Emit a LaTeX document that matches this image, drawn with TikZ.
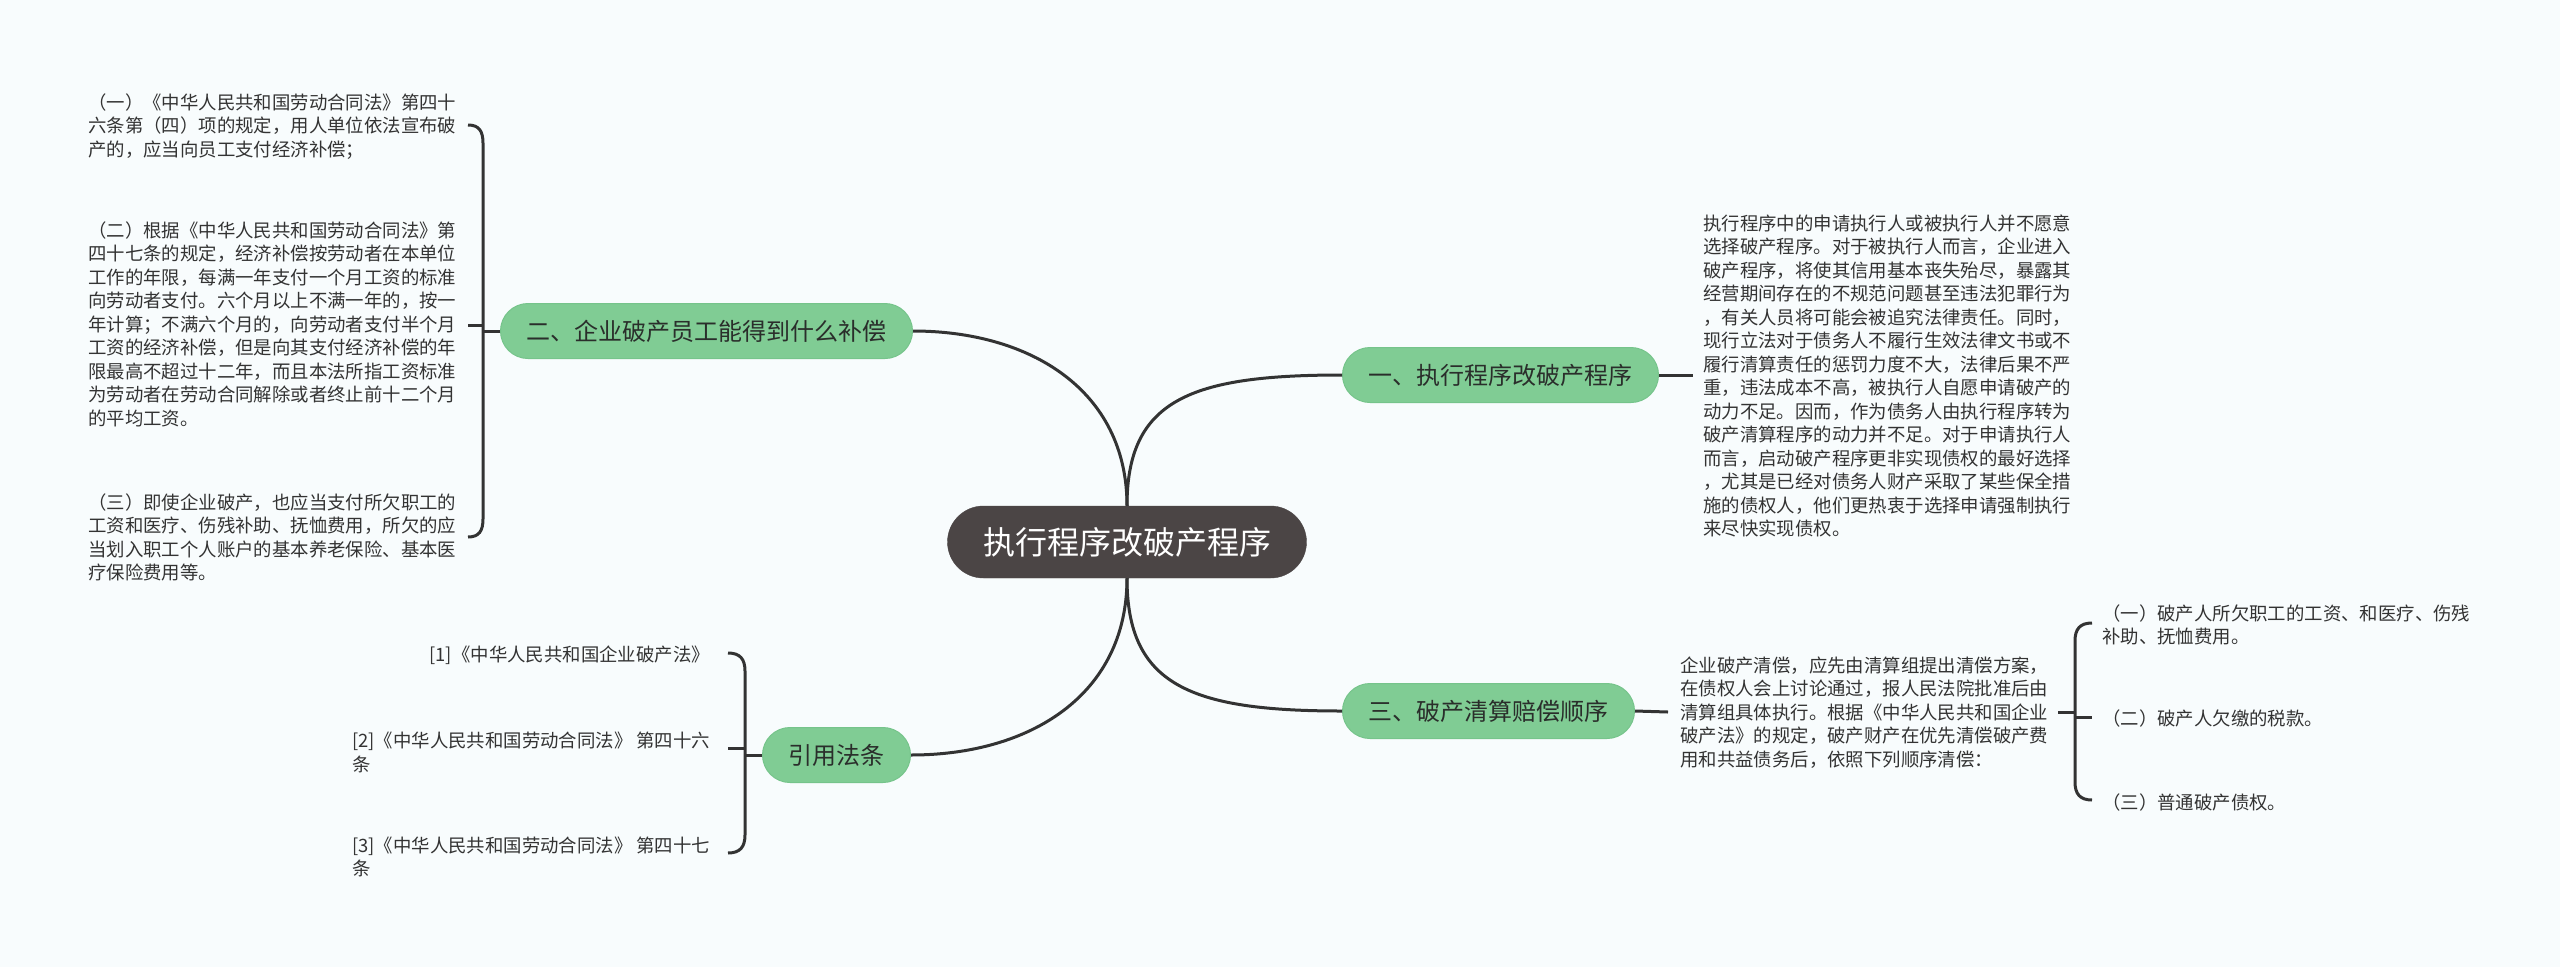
\documentclass[tikz,border=0pt]{standalone}
\usepackage{fontspec}
\setmainfont{Noto Sans CJK SC}
\definecolor{bg}{HTML}{F8FCFD}
\definecolor{grn}{HTML}{80CC94}
\definecolor{grnb}{HTML}{76C48B}
\definecolor{darkn}{HTML}{4B4545}
\definecolor{ln}{HTML}{333333}
\definecolor{txt}{HTML}{333333}
\definecolor{btxt}{HTML}{2A2E2B}
\tikzset{
  mainnode/.style={fill=darkn, draw=darkn, text=white, rounded corners=36pt, minimum height=72pt, minimum width=359pt, inner sep=0pt, font=\fontsize{32}{36}\selectfont},
  branch/.style={fill=grn, draw=grnb, line width=1pt, text=btxt, rounded corners=27.5pt, minimum height=55pt, inner xsep=26pt, inner ysep=0pt, font=\fontsize{24}{28}\selectfont},
  leaf/.style={font=\fontsize{18.4}{23.5}\selectfont, align=left, inner sep=0pt, text=txt, anchor=north west},
  conn/.style={draw=ln, line width=3pt},
}
\begin{document}
\begin{tikzpicture}[x=1pt,y=-1pt]
\fill[bg] (0,0) rectangle (2560,967);
\useasboundingbox (0,0) rectangle (2560,967);

% main and branch nodes
\node[mainnode] (c) at (1127,542) {执行程序改破产程序};
\node[branch, anchor=west] (b1) at (1342,375) {一、执行程序改破产程序};
\node[branch, anchor=east] (b2) at (913,331) {二、企业破产员工能得到什么补偿};
\node[branch, anchor=west] (b3) at (1342,711) {三、破产清算赔偿顺序};
\node[branch, anchor=east] (b4) at (911,755) {引用法条};

% main curves
\draw[conn] (c.north) .. controls (1127,400) and (1190,375) .. (b1.west);
\draw[conn] (c.north) .. controls (1127,390) and (1030,331) .. (b2.east);
\draw[conn] (c.south) .. controls (1127,685) and (1190,711) .. (b3.west);
\draw[conn] (c.south) .. controls (1127,695) and (1030,755) .. (b4.east);

% branch 1 leaf
\node[leaf] (r1) at (1703,214.5) {执行程序中的申请执行人或被执行人并不愿意\\选择破产程序。对于被执行人而言，企业进入\\破产程序，将使其信用基本丧失殆尽，暴露其\\经营期间存在的不规范问题甚至违法犯罪行为\\，有关人员将可能会被追究法律责任。同时，\\现行立法对于债务人不履行生效法律文书或不\\履行清算责任的惩罚力度不大，法律后果不严\\重，违法成本不高，被执行人自愿申请破产的\\动力不足。因而，作为债务人由执行程序转为\\破产清算程序的动力并不足。对于申请执行人\\而言，启动破产程序更非实现债权的最好选择\\，尤其是已经对债务人财产采取了某些保全措\\施的债权人，他们更热衷于选择申请强制执行\\来尽快实现债权。};
\coordinate (r1l) at (1693,375);
\draw[conn] (b1.east) -- (r1l);

% branch 2 leaves
\node[leaf] (l1) at (88,93.5) {（一）《中华人民共和国劳动合同法》第四十\\六条第（四）项的规定，用人单位依法宣布破\\产的，应当向员工支付经济补偿；};
\node[leaf] (l2) at (88,221.5) {（二）根据《中华人民共和国劳动合同法》第\\四十七条的规定，经济补偿按劳动者在本单位\\工作的年限，每满一年支付一个月工资的标准\\向劳动者支付。六个月以上不满一年的，按一\\年计算；不满六个月的，向劳动者支付半个月\\工资的经济补偿，但是向其支付经济补偿的年\\限最高不超过十二年，而且本法所指工资标准\\为劳动者在劳动合同解除或者终止前十二个月\\的平均工资。};
\node[leaf] (l3) at (88,493.5) {（三）即使企业破产，也应当支付所欠职工的\\工资和医疗、伤残补助、抚恤费用，所欠的应\\当划入职工个人账户的基本养老保险、基本医\\疗保险费用等。};
\coordinate (lbt) at (468,125);
\coordinate (lbm) at (468,325);
\coordinate (lbb) at (468,537);
\coordinate (lbx) at (483,331);
\draw[conn] (lbt) .. controls (479,125) and (483,131) .. (483,143) -- (483,519) .. controls (483,531) and (479,537) .. (lbb);
\draw[conn] (lbm) -- (483,325);
\draw[conn] (b2.west) -- (lbx);

% branch 3 leaves
\coordinate (r3in) at (1668,712);
\draw[conn] (b3.east) -- (r3in);
\node[leaf] (r3) at (1680,656.5) {企业破产清偿，应先由清算组提出清偿方案，\\在债权人会上讨论通过，报人民法院批准后由\\清算组具体执行。根据《中华人民共和国企业\\破产法》的规定，破产财产在优先清偿破产费\\用和共益债务后，依照下列顺序清偿：};
\coordinate (r3out) at (2058,712);
\coordinate (rbx) at (2075,712);
\draw[conn] (r3out) -- (rbx);
\node[leaf] (r3a) at (2102,604.5) {（一）破产人所欠职工的工资、和医疗、伤残\\补助、抚恤费用。};
\node[leaf] (r3b) at (2102,709.5) {（二）破产人欠缴的税款。};
\node[leaf] (r3c) at (2102,793.5) {（三）普通破产债权。};
\coordinate (rbt) at (2092,623);
\coordinate (rbm) at (2092,717);
\coordinate (rbb) at (2092,800);
\draw[conn] (rbt) .. controls (2080,623) and (2075,629) .. (2075,641) -- (2075,782) .. controls (2075,794) and (2080,800) .. (rbb);
\draw[conn] (2075,717) -- (rbm);

% references
\node[leaf, anchor=north east] (f1) at (710,646) {[1]《中华人民共和国企业破产法》};
\node[leaf] (f2) at (352,732) {[2]《中华人民共和国劳动合同法》 第四十六\\条};
\node[leaf] (f3) at (352,836.5) {[3]《中华人民共和国劳动合同法》 第四十七\\条};
\coordinate (fbt) at (728,653);
\coordinate (fbm) at (728,748);
\coordinate (fbb) at (728,853);
\coordinate (fbx) at (745,755);
\draw[conn] (fbt) .. controls (740,653) and (745,659) .. (745,671) -- (745,835) .. controls (745,847) and (740,853) .. (fbb);
\draw[conn] (fbm) -- (745,748);
\draw[conn] (fbx) -- (b4.west);
\end{tikzpicture}
\end{document}
